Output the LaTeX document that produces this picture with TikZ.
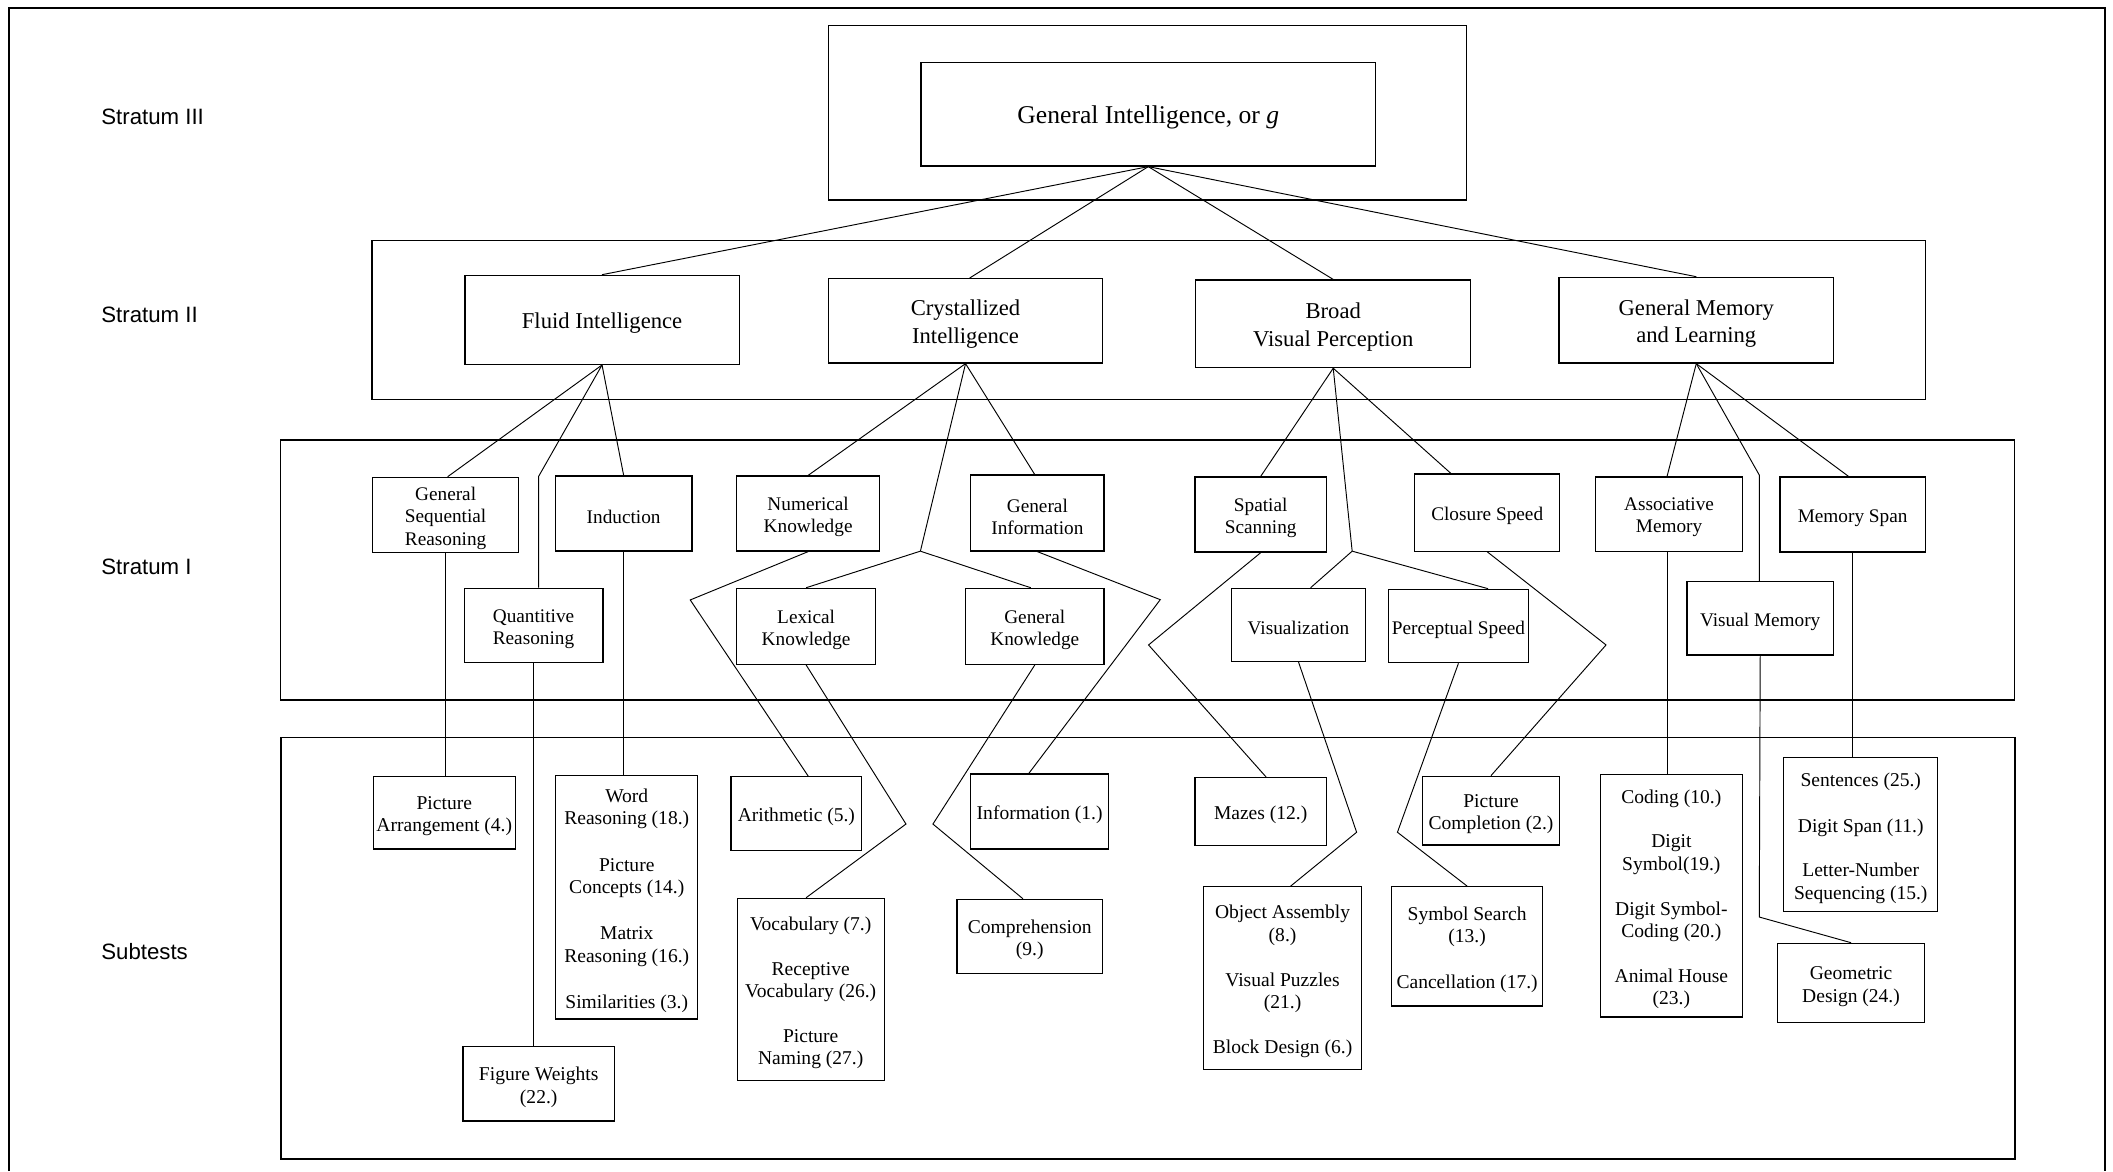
\documentclass[tikz,border=0pt]{standalone}
\usepackage{fontspec}
\setmainfont{Liberation Serif}
\newfontfamily\labfont{Liberation Sans}
\newcommand\mkbox[7]{\node[boxst,minimum width={(#4-#2)*1pt},minimum height={(#5-#3)*1pt}] (#6) at ({(#2+#4)/2},{(#3+#5)/2}) {};
  \node[txtst,#1] (#6-t) at ([yshift=-2.6pt]#6.center) {#7};}
\begin{document}
\begin{tikzpicture}[x=1pt,y=-1pt,
  framest/.style={draw,line width=1pt},
  boxst/.style={draw,line width=0.9pt,rectangle,inner sep=0pt},
  txtst/.style={inner sep=0pt,align=center},
  conn/.style={line width=0.7pt,line join=miter},
  sthree/.style={font=\fontsize{19}{23}\selectfont},
  stwo/.style={font=\fontsize{16.8}{20.5}\selectfont},
  sone/.style={font=\fontsize{14.3}{16.4}\selectfont},
  ssub/.style={font=\fontsize{14.5}{16.6}\selectfont},
  lab/.style={font=\labfont\fontsize{16.5}{19}\selectfont,anchor=west,inner sep=0pt}]
\useasboundingbox (0,0) rectangle (1568,869);
% frames
\draw[framest] (6.7,869) -- (6.7,6) -- (1562,6) -- (1562,869);
\draw[framest] (615,18.8) rectangle (1088.3,148.4);
\draw[framest] (276,178.6) rectangle (1428.6,296.3);
\draw[framest] (208,326.5) rectangle (1495,519.4);
\draw[framest] (208.5,547.1) rectangle (1495.3,860);
% labels
\node[lab] (l3) at (75,86.5) {Stratum III};
\node[lab] (l2) at (75,233.5) {Stratum II};
\node[lab] (l1) at (75,421) {Stratum I};
\node[lab] (l0) at (75,706) {Subtests};
% stratum III
\mkbox{sthree}{683.4}{46.5}{1020.8}{123.2}{g}{General Intelligence, or \textit{g}}
% stratum II
\mkbox{stwo}{345}{204.3}{548.5}{270.4}{fluid}{Fluid Intelligence}
\mkbox{stwo}{615}{206.8}{818}{269.4}{cryst}{Crystallized\\Intelligence}
\mkbox{stwo}{887.4}{207.8}{1091.3}{272.8}{bvp}{Broad\\Visual Perception}
\mkbox{stwo}{1156.8}{205.8}{1360.7}{269.4}{gml}{General Memory\\and Learning}
% stratum I
\mkbox{sone}{276.6}{354.2}{384.8}{409.9}{gsr}{General\\Sequential\\Reasoning}
\mkbox{sone}{412.1}{353.2}{513.5}{408.9}{ind}{Induction}
\mkbox{sone}{344.4}{436.6}{447.4}{491.7}{qr}{Quantitive\\Reasoning}
\mkbox{sone}{546.7}{353.2}{652.7}{408.9}{nk}{Numerical\\Knowledge}
\mkbox{sone}{720.4}{352.5}{819.2}{408.9}{gi}{General\\Information}
\mkbox{sone}{546.7}{436.6}{649.7}{493}{lex}{Lexical\\Knowledge}
\mkbox{sone}{716.6}{436.6}{819.2}{493}{gk}{General\\Knowledge}
\mkbox{sone}{886.8}{354}{984.2}{409.7}{ss}{Spatial\\Scanning}
\mkbox{sone}{1049.9}{351.7}{1157.3}{409}{cs}{Closure Speed}
\mkbox{sone}{914.1}{436.6}{1013}{490.7}{vis}{Visualization}
\mkbox{sone}{1030.2}{437.3}{1134.3}{491.8}{ps}{Perceptual Speed}
\mkbox{sone}{1184.1}{354}{1293}{409}{am}{Associative\\Memory}
\mkbox{sone}{1320.8}{354}{1428.8}{409.7}{ms}{Memory Span}
\mkbox{sone}{1251.8}{431.6}{1360.6}{486}{vm}{Visual Memory}
% subtests
\mkbox{ssub}{277.1}{576.3}{382.3}{630}{pa}{Picture\\Arrangement (4.)}
\mkbox{ssub}{412.5}{575.6}{517.7}{756.2}{wr}{Word\\Reasoning (18.)\\[17.8pt]Picture\\Concepts (14.)\\[17.8pt]Matrix\\Reasoning (16.)\\[17.8pt]Similarities (3.)}
\mkbox{ssub}{343.5}{776.7}{456}{831.9}{fw}{Figure Weights\\(22.)}
\mkbox{ssub}{542.4}{576.3}{639.5}{631}{ar}{Arithmetic (5.)}
\mkbox{ssub}{547.1}{666.6}{656.1}{801.7}{voc}{Vocabulary (7.)\\[16.6pt]Receptive\\Vocabulary (26.)\\[16.4pt]Picture\\Naming (27.)}
\mkbox{ssub}{720.4}{574.3}{822.6}{630}{inf}{Information (1.)}
\mkbox{ssub}{710.2}{667.4}{818}{722.3}{comp}{Comprehension\\(9.)}
\mkbox{ssub}{886.8}{577}{984.2}{627.6}{mz}{Mazes (12.)}
\mkbox{ssub}{893}{658}{1010.5}{793.5}{oa}{Object Assembly\\(8.)\\[16.6pt]Visual Puzzles\\(21.)\\[16.8pt]Block Design (6.)}
\mkbox{ssub}{1055.6}{576}{1157.3}{627}{pc}{Picture\\Completion (2.)}
\mkbox{ssub}{1032.6}{658}{1144.8}{746.5}{syms}{Symbol Search\\(13.)\\[17.5pt]Cancellation (17.)}
\mkbox{ssub}{1187.5}{575}{1293}{754.7}{cod}{Coding (10.)\\[16.2pt]Digit\\Symbol(19.)\\[16.6pt]Digit Symbol-\\Coding (20.)\\[16.6pt]Animal House\\(23.)}
\mkbox{ssub}{1323.7}{562}{1437.9}{676.5}{sen}{Sentences (25.)\\[17.6pt]Digit Span (11.)\\[16.6pt]Letter-Number\\Sequencing (15.)}
\mkbox{ssub}{1318.9}{700}{1428.3}{759}{gd}{Geometric\\Design (24.)}
% bend coordinates
\coordinate (qrb) at (399.7,353.5);
\coordinate (cb) at (683,409);
\coordinate (nkp) at (512.2,445.2);
\coordinate (lexp) at (672.3,611.5);
\coordinate (gkp) at (692.3,611.5);
\coordinate (gip) at (861,445);
\coordinate (vb) at (1003.4,409);
\coordinate (ssp) at (852.3,478.6);
\coordinate (visp) at (1006.7,617.6);
\coordinate (psp) at (1037,617.6);
\coordinate (csp) at (1191.8,478.6);
\coordinate (vmb) at (1305.5,352.5);
\coordinate (vmp) at (1305.5,680.5);
% connectors: g
\draw[conn] (g.south) -- (fluid.north);
\draw[conn] (g.south) -- ([xshift=3pt]cryst.north);
\draw[conn] (g.south) -- (bvp.north);
\draw[conn] (g.south) -- (gml.north);
% fluid
\draw[conn] (fluid.south) -- ([xshift=1.5pt]gsr.north);
\draw[conn] (fluid.south) -- (qrb) -- (qrb |- qr.north);
\draw[conn] (fluid.south) -- (ind.north);
\draw[conn] (gsr.south) -- (gsr.south |- pa.north);
\draw[conn] (qr.south) -- (qr.south |- fw.north);
\draw[conn] (ind.south) -- (ind.south |- wr.north);
% crystallized
\draw[conn] (cryst.south) -- (nk.north);
\draw[conn] (cryst.south) -- (cb);
\draw[conn] (cb) -- (lex.north);
\draw[conn] (cb) -- ([xshift=-3pt]gk.north);
\draw[conn] (cryst.south) -- ([xshift=-2pt]gi.north);
\draw[conn] (nk.south) -- (nkp) -- (nk.south |- ar.north);
\draw[conn] (lex.south) -- (lexp) -- (lex.south |- voc.north);
\draw[conn] (gk.south) -- (gkp) -- ([xshift=-5pt]comp.north);
\draw[conn] (gi.south) -- (gip) -- ([xshift=-8pt]inf.north);
% broad visual perception
\draw[conn] (bvp.south) -- (ss.north);
\draw[conn] (bvp.south) -- (vb);
\draw[conn] (vb) -- ([xshift=9pt]vis.north);
\draw[conn] (vb) -- ([xshift=22pt]ps.north);
\draw[conn] (bvp.south) -- ([xshift=-27pt]cs.north);
\draw[conn] (ss.south) -- (ssp) -- ([xshift=4pt]mz.north);
\draw[conn] (vis.south) -- (visp) -- ([xshift=6pt]oa.north);
\draw[conn] (ps.south) -- (psp) -- (syms.north);
\draw[conn] (cs.south) -- (csp) -- (pc.north);
% general memory
\draw[conn] (gml.south) -- ([xshift=-1.5pt]am.north);
\draw[conn] (gml.south) -- (vmb) -- (vmb |- vm.north);
\draw[conn] (gml.south) -- ([xshift=-3pt]ms.north);
\draw[conn] ([xshift=-1.5pt]am.south) -- ([xshift=-1.5pt]am.south |- cod.north);
\draw[conn] (vm.south) -- (vmp) -- (gd.north);
\draw[conn] (ms.south) -- (ms.south |- sen.north);
\end{tikzpicture}
\end{document}
